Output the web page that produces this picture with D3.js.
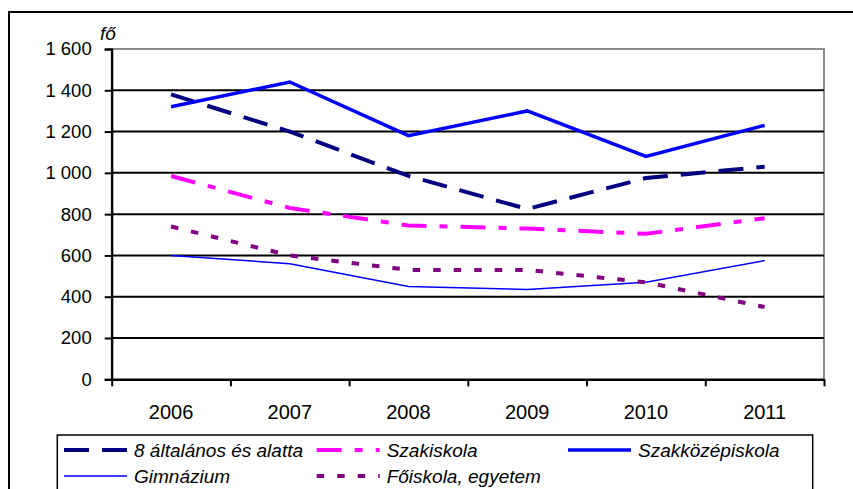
<!DOCTYPE html>
<html><head><meta charset="utf-8">
<script src="https://cdn.jsdelivr.net/npm/d3@7/dist/d3.min.js"></script>
<style>body{margin:0;background:#fff}svg{display:block}text{font-family:"Liberation Sans",Arial,sans-serif}</style>
</head><body><svg id="c" width="853" height="489"></svg>
<script>
const years = ["2006","2007","2008","2009","2010","2011"];
const seriesNames = ["8 általános és alatta","Szakiskola","Szakközépiskola","Gimnázium","Főiskola, egyetem"];
const altalanos = [1380,1200,985,825,975,1030];
const szakiskola = [985,830,745,730,705,780];
const szakkozep = [1320,1440,1180,1300,1080,1230];
const gimnazium = [600,560,450,435,470,575];
const foiskola = [740,600,530,530,470,350];
const yTicks = [0,200,400,600,800,1000,1200,1400,1600];
const yUnit = "fő";

const styles = [
  {color:"#000080", width:4, dash:"25,13"},
  {color:"#FF00FF", width:4, dash:"25,13,8,13"},
  {color:"#0000FF", width:3.5, dash:null},
  {color:"#0000FF", width:1.5, dash:null},
  {color:"#800080", width:4, dash:"7.5,13"}
];
const data = [altalanos, szakiskola, szakkozep, gimnazium, foiskola];

const svg = d3.select("#c");
const L=111.7, R=824, T=49, B=379.3;
const x = d3.scaleBand().domain(years).range([L,R]);
const xb = d3.scaleLinear().domain([0,years.length]).range([L,R]);
const y = d3.scaleLinear().domain([0,1600]).range([B,T]);

// outer chart border
svg.append("rect").attr("x",9).attr("y",12).attr("width",900).attr("height",520)
  .attr("fill","none").attr("stroke","#000").attr("stroke-width",2);

// plot area border (gray)
svg.append("rect").attr("x",L).attr("y",T).attr("width",R-L).attr("height",B-T)
  .attr("fill","none").attr("stroke","#8c8c8c").attr("stroke-width",2);

// gridlines
svg.append("g").selectAll("line").data(yTicks.filter(v=>v>0&&v<1600)).join("line")
  .attr("x1",L).attr("x2",R).attr("y1",d=>y(d)).attr("y2",d=>y(d))
  .attr("stroke","#000").attr("stroke-width",2);

// y axis
const fmt = v => d3.format(",")(v).replace(/,/g," ");
const ya = svg.append("g").attr("transform",`translate(${L},0)`)
  .call(d3.axisLeft(y).tickValues(yTicks).tickFormat(fmt).tickSize(7).tickPadding(13));
ya.select(".domain").attr("stroke","#000").attr("stroke-width",2.2);
ya.selectAll(".tick line").attr("stroke","#000").attr("stroke-width",2);
ya.selectAll(".tick text").attr("font-size",18.5).attr("fill","#000")
  .attr("font-family","'Liberation Sans',Arial,sans-serif");

// x axis
const xa = svg.append("g").attr("transform",`translate(0,${B})`)
  .call(d3.axisBottom(xb).tickValues(d3.range(0,years.length+1)).tickFormat("").tickSize(7).tickSizeOuter(0));
xa.select(".domain").attr("stroke","#000").attr("stroke-width",2.2);
xa.selectAll(".tick line").attr("stroke","#000").attr("stroke-width",2);
svg.append("g").selectAll("text").data(years).join("text")
  .attr("x",d=>x(d)+x.bandwidth()/2).attr("y",411.7).attr("dy","0.35em")
  .attr("text-anchor","middle").attr("font-size",20).text(d=>d);

// unit label
svg.append("text").attr("x",100).attr("y",33).attr("dy","0.35em").attr("font-size",19)
  .attr("font-style","italic").text(yUnit);

// lines
const line = d3.line().x((d,i)=>x(years[i])+x.bandwidth()/2).y(d=>y(d));
data.forEach((s,k)=>{
  svg.append("path").datum(s).attr("d",line).attr("fill","none")
    .attr("stroke",styles[k].color).attr("stroke-width",styles[k].width)
    .attr("stroke-dasharray",styles[k].dash).attr("stroke-linejoin","miter");
});

// legend
svg.append("rect").attr("x",57.3).attr("y",435).attr("width",755.4).attr("height",80)
  .attr("fill","none").attr("stroke","#000").attr("stroke-width",1.5);
const legPos = [[64,450],[316.7,450],[568,450],[64,476],[316.7,476]];
seriesNames.forEach((n,k)=>{
  const [lx,ly]=legPos[k];
  svg.append("line").attr("x1",lx).attr("x2",lx+63).attr("y1",ly).attr("y2",ly)
    .attr("stroke",styles[k].color).attr("stroke-width",styles[k].width)
    .attr("stroke-dasharray",styles[k].dash);
  svg.append("text").attr("x",lx+70).attr("y",ly).attr("dy","0.35em").attr("font-size",19)
    .attr("font-style","italic").text(n);
});
</script></body></html>
